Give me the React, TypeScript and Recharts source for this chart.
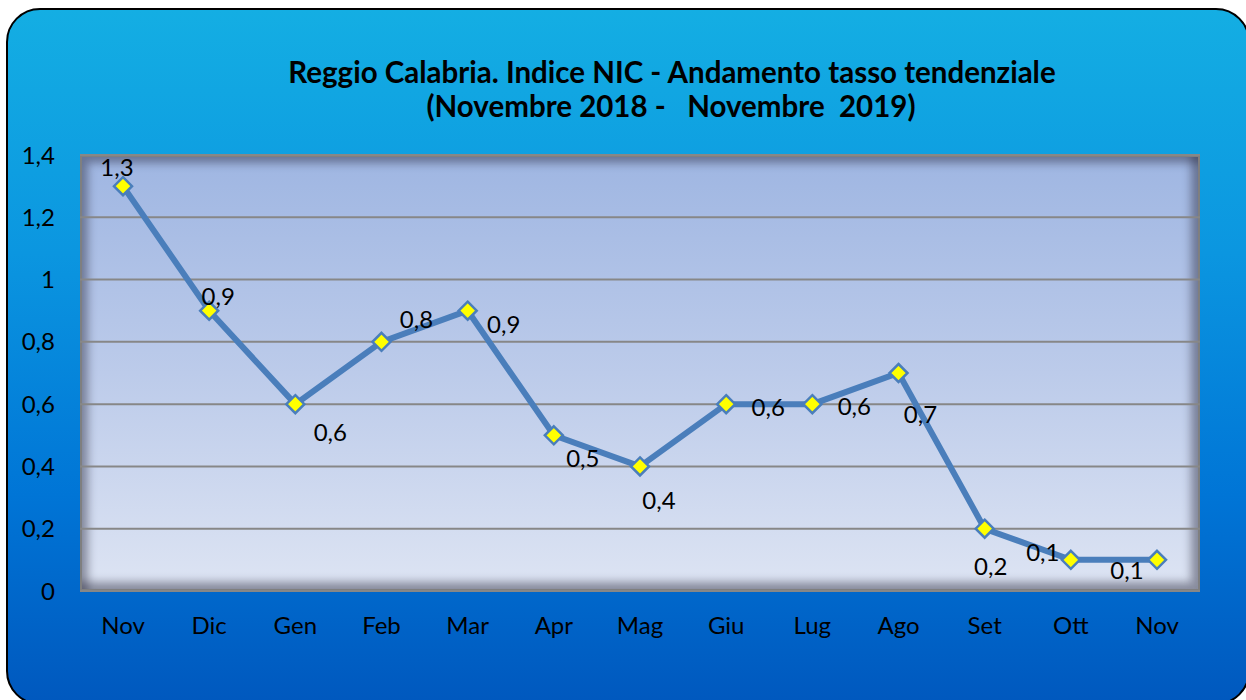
import React from 'react';
import { LineChart, Line, XAxis, YAxis, CartesianGrid, LabelList } from 'recharts';

const categories = ['Nov', 'Dic', 'Gen', 'Feb', 'Mar', 'Apr', 'Mag', 'Giu', 'Lug', 'Ago', 'Set', 'Ott', 'Nov'];
const values = [1.3, 0.9, 0.6, 0.8, 0.9, 0.5, 0.4, 0.6, 0.6, 0.7, 0.2, 0.1, 0.1];
const yTicks = [0, 0.2, 0.4, 0.6, 0.8, 1, 1.2, 1.4];
const titleLine1 = 'Reggio Calabria. Indice NIC - Andamento tasso tendenziale';
const titleLine2 = '(Novembre 2018 -   Novembre  2019)';

// label placement offsets (dx, dy) relative to each point, style only
const labelOffsets: [number, number][] = [
  [-6, -20], [9, -15], [35, 27], [35, -23], [36, 13], [29, 22], [19, 33],
  [42, 2], [42, 1], [22, 40], [6, 37], [-28, -8], [-30, 10],
];

const data = categories.map((m, i) => ({ idx: i, month: m, value: values[i] }));

const FONT = 'Lato, "Open Sans", sans-serif';
const fmt = (v: number) => String(v).replace('.', ',');

const Diamond = (props: any) => {
  const { cx, cy } = props;
  if (cx == null || cy == null) return null;
  const r = 9;
  return (
    <polygon
      points={`${cx},${cy - r} ${cx + r},${cy} ${cx},${cy + r} ${cx - r},${cy}`}
      fill="#FFFF00"
      stroke="#4A7EBB"
      strokeWidth={2.5}
    />
  );
};

const renderLabel = (props: any) => {
  const { x, y, value, index } = props;
  const off = labelOffsets[index] || [0, -15];
  return (
    <text
      x={x + off[0]}
      y={y + off[1]}
      textAnchor="middle"
      dominantBaseline="central"
      fontFamily={FONT}
      fontSize={24}
      fill="#000"
    >
      {fmt(value)}
    </text>
  );
};

export default function App() {
  return (
    <div style={{ position: 'absolute', left: 0, top: 0, width: 1246, height: 700, overflow: 'hidden', background: '#fff' }}>
      <div
        style={{
          position: 'absolute', left: 6, top: 8, width: 1244, height: 697,
          boxSizing: 'border-box', border: '2px solid #000', borderRadius: 34,
          background: 'linear-gradient(to bottom, #14AEE3 0%, #0B96E0 35%, #0075D6 70%, #0058BE 100%)',
        }}
      />
      <div
        style={{
          position: 'absolute', left: 80, top: 155, width: 1120, height: 436,
          boxSizing: 'border-box', border: '2px solid #7F7F7F',
          background: 'linear-gradient(to bottom, #9FB6E2 0%, #BCCBEA 50%, #DDE4F3 100%)',
          boxShadow: 'inset 6px 6px 8px rgba(40,40,60,0.45), inset -7px -7px 8px rgba(40,40,60,0.45)',
        }}
      />
      <svg width={1246} height={140} style={{ position: 'absolute', left: 0, top: 0 }}>
        <text x={672} y={83} textAnchor="middle" fontFamily={FONT} fontWeight="bold" fontSize={29.5} fill="#000" style={{ whiteSpace: 'pre' }}>
          {titleLine1}
        </text>
        <text x={671} y={117} textAnchor="middle" fontFamily={FONT} fontWeight="bold" fontSize={29.5} fill="#000" style={{ whiteSpace: 'pre' }}>
          {titleLine2}
        </text>
      </svg>
      <div style={{ position: 'absolute', left: 0, top: 0 }}>
        <LineChart width={1246} height={700} data={data} margin={{ top: 155, right: 46, bottom: 69, left: 20 }}>
          <CartesianGrid vertical={false} stroke="#878787" strokeWidth={2} />
          <XAxis
            dataKey="month"
            padding={{ left: 43, right: 43 }}
            axisLine={false}
            tickLine={false}
            tickSize={0}
            tickMargin={26}
            height={40}
            interval={0}
            tick={{ fontFamily: FONT, fontSize: 24, fill: '#000' }}
          />
          <YAxis
            domain={[0, 1.4]}
            ticks={yTicks}
            width={60}
            axisLine={false}
            tickLine={false}
            tickSize={0}
            tickMargin={25}
            tickFormatter={fmt}
            tick={{ fontFamily: FONT, fontSize: 24, fill: '#000' }}
          />
          <Line
            type="linear"
            dataKey="value"
            stroke="#4A7EBB"
            strokeWidth={6}
            dot={<Diamond />}
            activeDot={false}
            isAnimationActive={false}
          >
            <LabelList dataKey="value" content={renderLabel} />
          </Line>
        </LineChart>
      </div>
    </div>
  );
}
